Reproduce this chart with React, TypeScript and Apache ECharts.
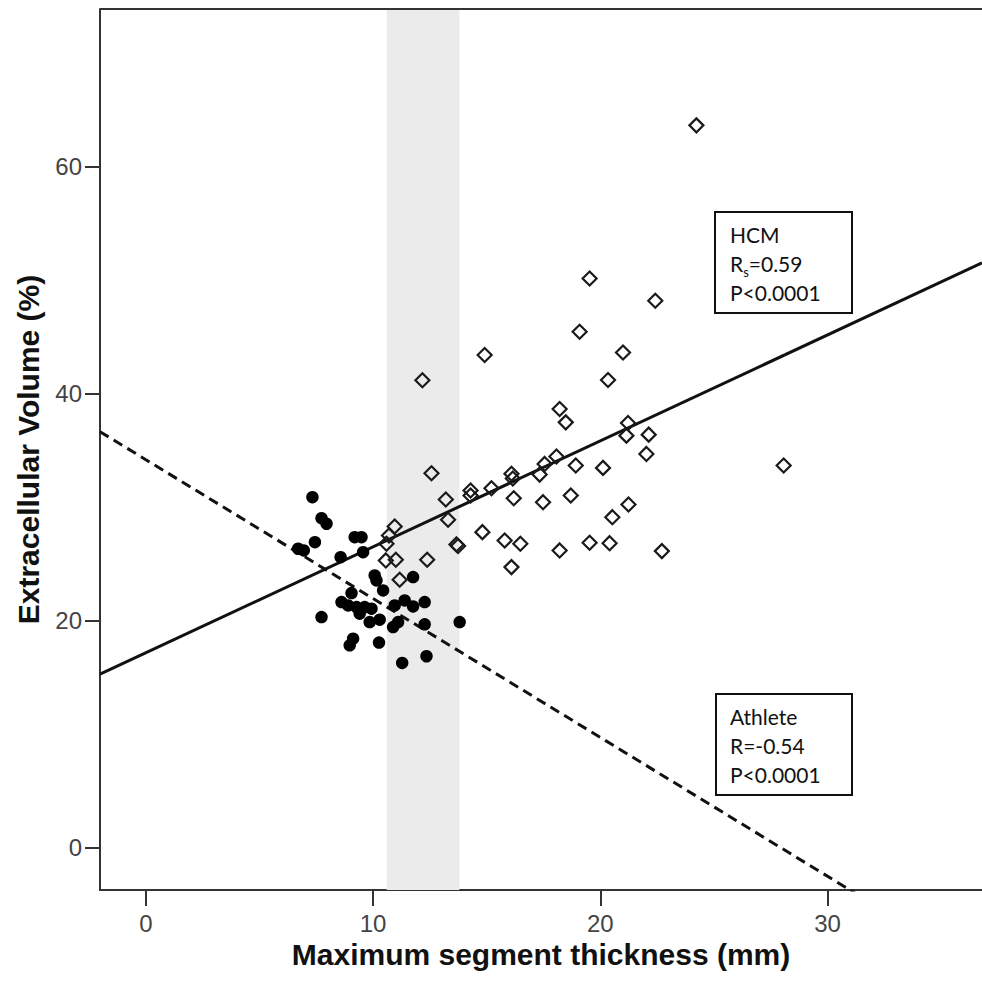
import React, { useEffect, useRef } from "react";
import * as echarts from "echarts";

// Athlete group (filled circles): [max segment thickness (mm), ECV (%)]
const athleteThickness = [7.33, 7.73, 7.95, 7.44, 6.70, 6.95, 9.19, 9.49, 8.57, 9.56, 10.07, 10.15, 11.76, 10.44, 9.05, 8.61, 8.90, 9.27, 9.63, 9.93, 9.41, 10.95, 11.39, 11.76, 12.27, 7.73, 9.85, 10.29, 10.88, 11.10, 12.27, 13.81, 9.12, 8.97, 10.26, 11.28, 12.35];
const athleteECV = [30.9, 29.05, 28.56, 26.94, 26.36, 26.21, 27.38, 27.38, 25.62, 26.06, 24.01, 23.57, 23.86, 22.69, 22.45, 21.66, 21.37, 21.22, 21.22, 21.08, 20.64, 21.37, 21.81, 21.28, 21.66, 20.34, 19.90, 20.11, 19.46, 19.90, 19.70, 19.90, 18.44, 17.85, 18.09, 16.30, 16.89];

// HCM group (open diamonds)
const hcmThickness = [12.17, 14.91, 18.21, 18.48, 12.57, 13.20, 14.29, 14.29, 15.21, 16.09, 16.15, 17.33, 17.55, 18.07, 13.30, 16.19, 17.48, 18.70, 10.95, 10.70, 10.59, 13.67, 13.74, 14.81, 15.79, 16.48, 18.21, 10.56, 11.00, 12.38, 16.09, 11.17, 19.53, 22.42, 19.09, 21.00, 20.34, 21.22, 21.15, 22.13, 22.03, 18.92, 20.12, 21.24, 20.53, 19.53, 20.41, 22.71, 24.23, 28.07];
const hcmECV = [41.2, 43.42, 38.67, 37.49, 33.01, 30.69, 31.49, 31.05, 31.69, 32.96, 32.54, 32.89, 33.83, 34.48, 28.91, 30.81, 30.46, 31.05, 28.32, 27.53, 26.80, 26.74, 26.6, 27.82, 27.09, 26.80, 26.21, 25.33, 25.39, 25.39, 24.74, 23.63, 50.16, 48.20, 45.47, 43.65, 41.22, 37.44, 36.32, 36.41, 34.71, 33.69, 33.48, 30.26, 29.14, 26.89, 26.85, 26.15, 63.65, 33.69];

// Fitted lines: [intercept, slope]
const hcmFit = [17.2, 0.933];
const athleteFit = [34.2, -1.223];

// Shaded band (grey zone), mm
const greyZone = [10.6, 13.8];

// Axis ranges and tick labels
const xRange = [-2.02, 36.8];
const yRange = [-3.7, 73.9];
const xTicks = [0, 10, 20, 30];
const yTicks = [0, 20, 40, 60];

// Annotation text
const hcmLabel = ["HCM", "R{sub|s}=0.59", "P<0.0001"];
const athleteLabel = ["Athlete", "R=-0.54", "P<0.0001"];

const zip = (a: number[], b: number[]) => a.map((v, i) => [v, b[i]]);
const fitLine = (f: number[]) => [
  [xRange[0], f[0] + f[1] * xRange[0]],
  [xRange[1], f[0] + f[1] * xRange[1]],
];

const tickFont = "'Liberation Sans', Arial, sans-serif";
const boxFont = "Lato, 'Open Sans', sans-serif";

export default function App() {
  const ref = useRef<HTMLDivElement>(null);
  useEffect(() => {
    if (!ref.current) return;
    const chart = echarts.init(ref.current, null, { renderer: "svg" });
    const boxText = (lines: string[], x: number, y: number) => ({
      type: "text",
      left: x,
      top: y,
      z: 20,
      style: {
        text: lines.join("\n"),
        font: `21px ${boxFont}`,
        fill: "#111",
        lineHeight: 29,
        rich: {
          sub: { fontSize: 13, fontFamily: boxFont, verticalAlign: "bottom", padding: [11, 0, 0, 0], fill: "#111" },
        },
      },
    });
    chart.setOption({
      animation: false,
      backgroundColor: "#ffffff",
      grid: { left: 100, top: 9, right: 0, bottom: 97, containLabel: false },
      xAxis: {
        type: "value",
        min: xRange[0],
        max: xRange[1],
        name: "Maximum segment thickness (mm)",
        nameLocation: "middle",
        nameGap: 49,
        nameTextStyle: { fontFamily: tickFont, fontWeight: "bold", fontSize: 30, color: "#111" },
        axisLine: { show: true, onZero: false, lineStyle: { color: "#333", width: 2 } },
        axisTick: { show: true, length: 16, customValues: xTicks, lineStyle: { color: "#333", width: 2 } },
        axisLabel: { customValues: xTicks, margin: 21, fontFamily: tickFont, fontSize: 24, color: "#444" },
        splitLine: { show: false },
      },
      yAxis: {
        type: "value",
        min: yRange[0],
        max: yRange[1],
        name: "Extracellular Volume (%)",
        nameLocation: "middle",
        nameGap: 57,
        nameRotate: 90,
        nameTextStyle: { fontFamily: tickFont, fontWeight: "bold", fontSize: 30, color: "#111" },
        axisLine: { show: true, onZero: false, lineStyle: { color: "#333", width: 2 } },
        axisTick: { show: true, length: 15, customValues: yTicks, lineStyle: { color: "#333", width: 2 } },
        axisLabel: { customValues: yTicks, margin: 18, fontFamily: tickFont, fontSize: 24, color: "#444" },
        splitLine: { show: false },
      },
      graphic: [
        { type: "line", z: 5, shape: { x1: 100, y1: 9, x2: 982, y2: 9 }, style: { stroke: "#333", lineWidth: 2 } },
        { type: "rect", z: 19, shape: { x: 715, y: 212, width: 137, height: 101 }, style: { fill: "#fff", stroke: "#111", lineWidth: 2 } },
        boxText(hcmLabel, 730, 220),
        { type: "rect", z: 19, shape: { x: 716, y: 694, width: 136, height: 101 }, style: { fill: "#fff", stroke: "#111", lineWidth: 2 } },
        boxText(athleteLabel, 730, 702),
      ],
      series: [
        {
          name: "band",
          type: "line",
          data: [],
          z: 1,
          markArea: {
            silent: true,
            itemStyle: { color: "#ebebeb" },
            data: [[{ xAxis: greyZone[0] }, { xAxis: greyZone[1] }]],
          },
        },
        {
          name: "HCM fit",
          type: "line",
          data: fitLine(hcmFit),
          symbol: "none",
          z: 4,
          lineStyle: { color: "#111", width: 3 },
        },
        {
          name: "Athlete fit",
          type: "line",
          data: fitLine(athleteFit),
          symbol: "none",
          z: 4,
          clip: true,
          lineStyle: { color: "#111", width: 3, type: [10, 6] },
        },
        {
          name: "HCM",
          type: "scatter",
          data: zip(hcmThickness, hcmECV),
          symbol: "diamond",
          symbolSize: 14,
          z: 6,
          itemStyle: { color: "rgba(255,255,255,0)", borderColor: "#1a1a1a", borderWidth: 2.2, opacity: 1 },
        },
        {
          name: "Athlete",
          type: "scatter",
          data: zip(athleteThickness, athleteECV),
          symbol: "circle",
          symbolSize: 12.5,
          z: 7,
          itemStyle: { color: "#000", opacity: 1 },
        },
      ],
    });
    return () => chart.dispose();
  }, []);
  return <div ref={ref} style={{ width: 982, height: 987, position: "absolute", left: 0, top: 0 }} />;
}
